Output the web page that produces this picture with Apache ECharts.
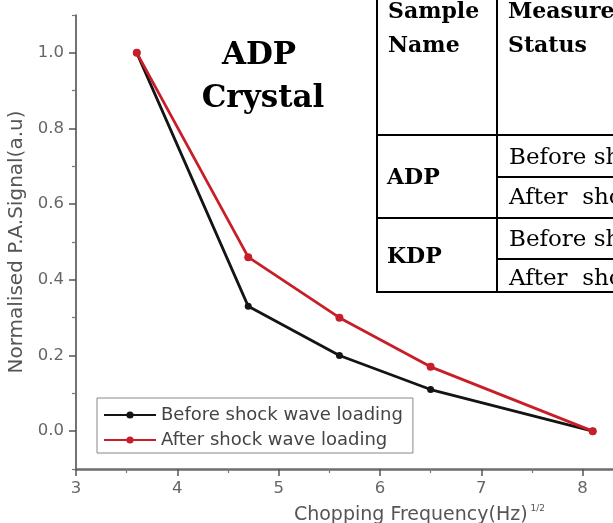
<!DOCTYPE html>
<html>
<head>
<meta charset="utf-8">
<script src="https://cdn.jsdelivr.net/npm/echarts@6/dist/echarts.min.js"></script>
<style>html,body{margin:0;padding:0;background:#fff;}#c{width:613px;height:523px;}</style>
</head>
<body>
<div id="c"></div>
<script>
// ---- data ----
const xValues = [3.6, 4.7, 5.6, 6.5, 8.1];
const beforeValues = [1.0, 0.33, 0.20, 0.11, 0.0];
const afterValues = [1.0, 0.46, 0.30, 0.17, 0.0];
const seriesNames = ['Before shock wave loading', 'After shock wave loading'];
const xTickValues = [3, 4, 5, 6, 7, 8];
const xMinorTickValues = [3.5, 4.5, 5.5, 6.5, 7.5];
const yTickValues = [0.0, 0.2, 0.4, 0.6, 0.8, 1.0];
const yMinorTickValues = [-0.1, 0.1, 0.3, 0.5, 0.7, 0.9, 1.1];
const xAxisTitle = 'Chopping Frequency(Hz)';
const xAxisTitleSup = '1/2';
const yAxisTitle = 'Normalised P.A.Signal(a.u)';
const annotationLines = ['ADP', 'Crystal'];
const tableHeader = [['Sample', 'Name'], ['Measurement', 'Status']];
const tableSamples = ['ADP', 'KDP'];
const tableStatus = ['Before shock wave loading', 'After  shock wave loading'];

const chart = echarts.init(document.getElementById('c'), null, {renderer: 'canvas'});

const pairs = arr => xValues.map((x, i) => [x, arr[i]]);
const sans = 'DejaVu Sans';
const labelStyle = {color: '#666', fontFamily: sans, fontSize: 16.5};

// table drawing (layout only)
const tL = 377, tC = 497, tR = 640, tTop = -2, tBot = 292;
const hLines = [
  [tL, 135, tR], [tC, 177, tR], [tL, 218, tR], [tC, 259, tR], [tL, tBot, tR]
];
const graphics = [
  {type: 'rect', shape: {x: tL, y: tTop, width: tR - tL, height: tBot - tTop}, style: {fill: '#fff'}, z: 10},
  {type: 'line', shape: {x1: tL, y1: tTop, x2: tL, y2: tBot + 1}, style: {stroke: '#000', lineWidth: 2}, z: 11},
  {type: 'line', shape: {x1: tC, y1: tTop, x2: tC, y2: tBot + 1}, style: {stroke: '#000', lineWidth: 2}, z: 11}
];
hLines.forEach(h => graphics.push({type: 'line', shape: {x1: h[0], y1: h[1], x2: h[2], y2: h[1]}, style: {stroke: '#000', lineWidth: 2}, z: 11}));
const serifBold = 'bold 22px "DejaVu Serif"';
const serif = '23px "DejaVu Serif"';
const txt = (x, y, text, font, va) => ({type: 'text', x: x, y: y, style: {text: text, font: font, fill: '#000', textVerticalAlign: va}, z: 12});
graphics.push(txt(388, 23, tableHeader[0][0], serifBold, 'bottom'));
graphics.push(txt(388, 57, tableHeader[0][1], serifBold, 'bottom'));
graphics.push(txt(508, 23, tableHeader[1][0], serifBold, 'bottom'));
graphics.push(txt(508, 57, tableHeader[1][1], serifBold, 'bottom'));
graphics.push(txt(387, 178, tableSamples[0], serifBold, 'middle'));
graphics.push(txt(387, 257, tableSamples[1], serifBold, 'middle'));
const statusY = [158, 198, 240, 279];
statusY.forEach((y, i) => graphics.push(txt(509, y, tableStatus[i % 2], serif, 'middle')));
// annotation
const annFont = 'bold 31px "DejaVu Serif"';
graphics.push({type: 'text', x: 259, y: 56, style: {text: annotationLines[0], font: annFont, fill: '#000', textAlign: 'center', textVerticalAlign: 'middle'}, z: 12});
graphics.push({type: 'text', x: 263, y: 99, style: {text: annotationLines[1], font: annFont, fill: '#000', textAlign: 'center', textVerticalAlign: 'middle'}, z: 12});

const baseX = {
  type: 'value', min: 3, max: 8.3, position: 'bottom',
  axisLine: {show: true, onZero: false, lineStyle: {color: '#6e6e6e', width: 2.5}},
  splitLine: {show: false}
};
const baseY = {
  type: 'value', min: -0.1, max: 1.1, position: 'left',
  axisLine: {show: true, onZero: false, lineStyle: {color: '#444', width: 1.5}},
  splitLine: {show: false}
};

const option = {
  backgroundColor: '#fff',
  animation: false,
  grid: {left: 76, right: 0, top: 15, bottom: 54, containLabel: false, outerBoundsMode: 'none'},
  xAxis: [
    Object.assign({}, baseX, {
      axisTick: {show: true, length: 7, lineStyle: {color: '#555', width: 1.5}, customValues: xTickValues},
      axisLabel: Object.assign({}, labelStyle, {margin: 11, customValues: xTickValues, formatter: v => String(v)}),
      name: '{t|' + xAxisTitle + '}{s|' + xAxisTitleSup + '}',
      nameLocation: 'middle', nameGap: 35,
      nameTextStyle: {padding: [0, 0, 0, 150], rich: {
        t: {fontFamily: sans, fontSize: 19, color: '#555'},
        s: {fontFamily: sans, fontSize: 9, color: '#555', verticalAlign: 'top', padding: [0, 0, 14, 3]}
      }}
    }),
    Object.assign({}, baseX, {
      axisLine: {show: false, onZero: false},
      axisTick: {show: true, length: 4, lineStyle: {color: '#777', width: 1.2}, customValues: xMinorTickValues},
      axisLabel: {show: false}
    })
  ],
  yAxis: [
    Object.assign({}, baseY, {
      axisTick: {show: true, length: 7, lineStyle: {color: '#555', width: 1.5}, customValues: yTickValues},
      axisLabel: Object.assign({}, labelStyle, {margin: 12, customValues: yTickValues, formatter: v => v.toFixed(1)}),
      name: yAxisTitle, nameLocation: 'middle', nameGap: 46, nameRotate: 90,
      nameTextStyle: {fontFamily: sans, fontSize: 20, color: '#555'}
    }),
    Object.assign({}, baseY, {
      axisLine: {show: false, onZero: false},
      axisTick: {show: true, length: 4, lineStyle: {color: '#777', width: 1.2}, customValues: yMinorTickValues},
      axisLabel: {show: false}
    })
  ],
  legend: {
    orient: 'vertical', left: 97, top: 398,
    itemWidth: 52, itemHeight: 9, itemGap: 5,
    padding: [7, 10, 3, 6],
    borderColor: '#888', borderWidth: 1,
    textStyle: {fontFamily: sans, fontSize: 18, lineHeight: 20, color: '#444'},
    data: seriesNames
  },
  series: [
    {
      name: seriesNames[0], type: 'line', data: pairs(beforeValues),
      symbol: 'circle', symbolSize: 7,
      lineStyle: {color: '#141414', width: 2.8},
      itemStyle: {color: '#141414'}, z: 3
    },
    {
      name: seriesNames[1], type: 'line', data: pairs(afterValues),
      symbol: 'circle', symbolSize: 8,
      lineStyle: {color: '#c81e2a', width: 2.8},
      itemStyle: {color: '#c81e2a'}, z: 4
    }
  ],
  graphic: graphics
};
chart.setOption(option);
</script>
</body>
</html>
